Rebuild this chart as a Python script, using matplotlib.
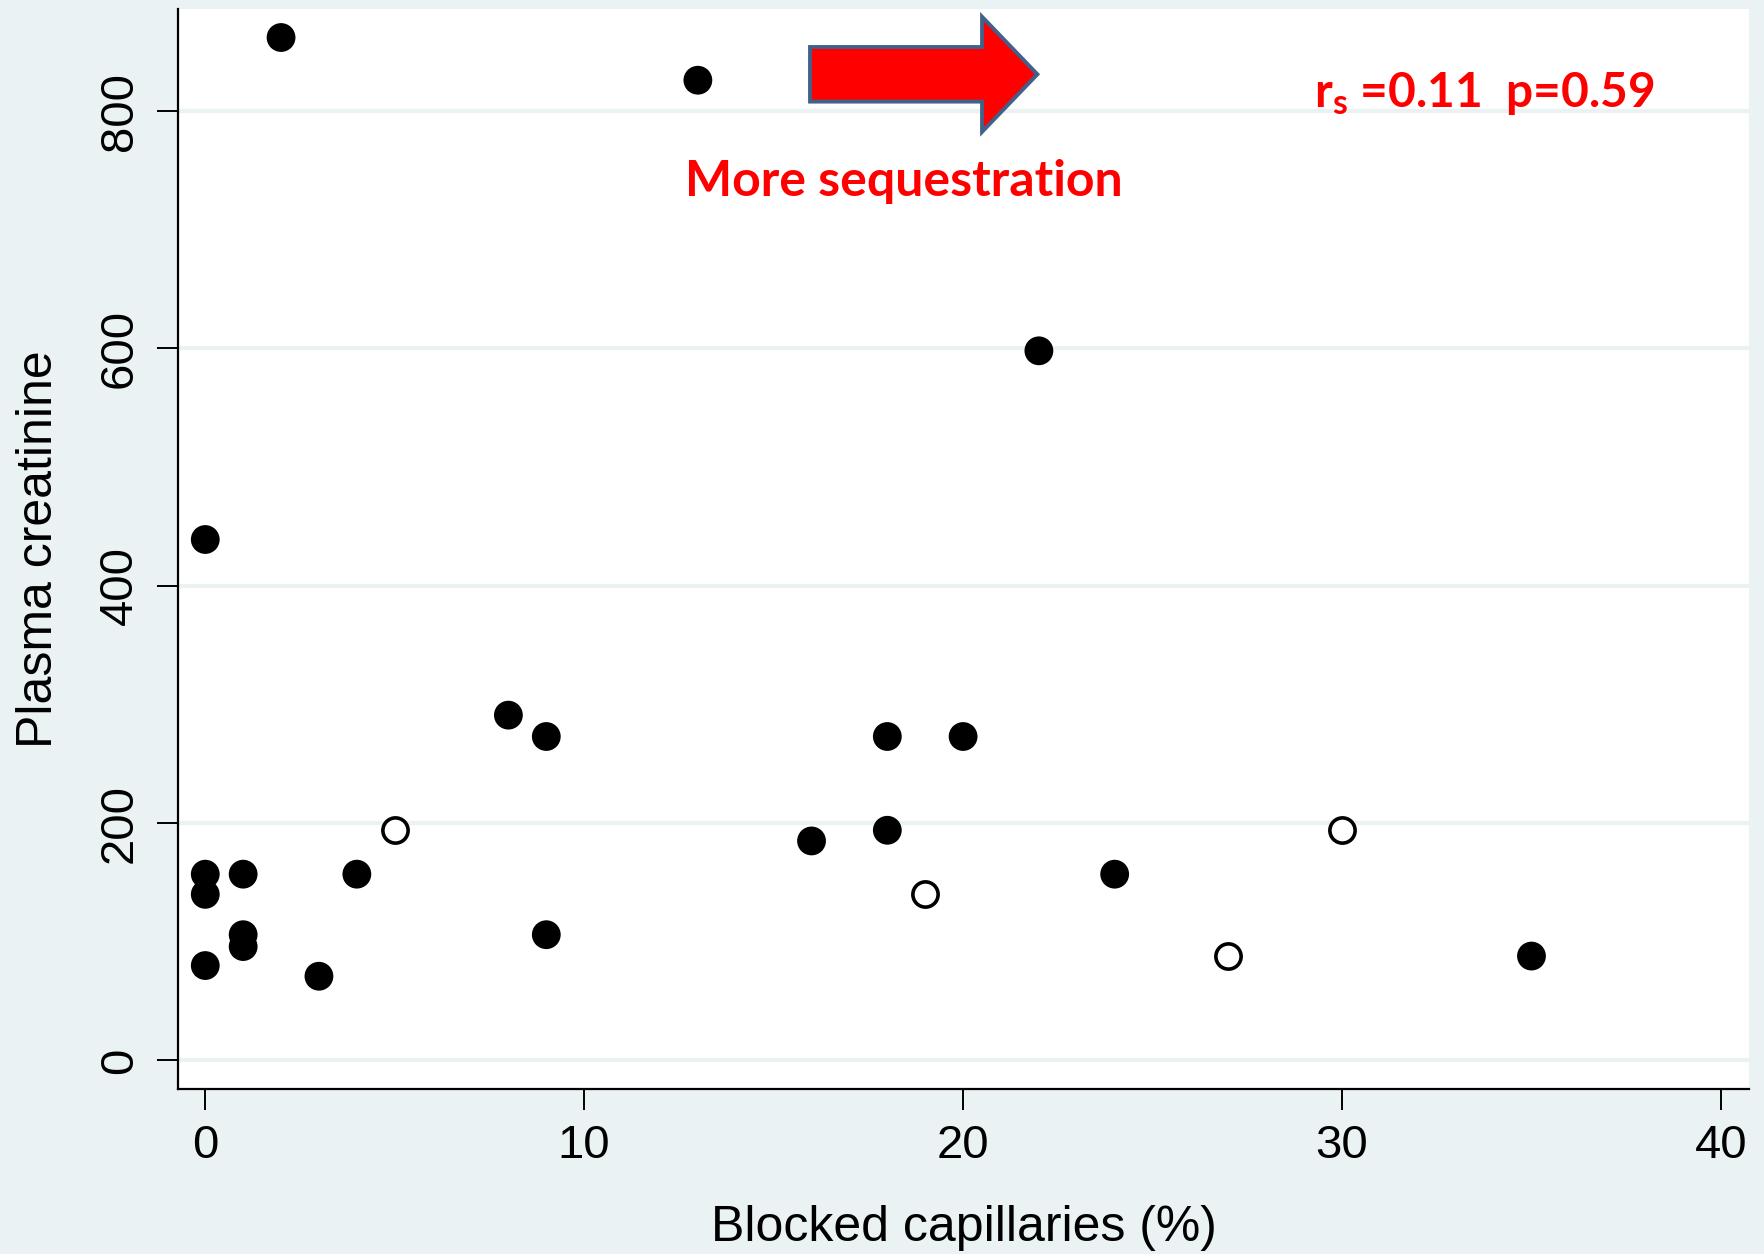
import matplotlib
matplotlib.use("Agg")
import matplotlib.pyplot as plt
from matplotlib.patches import FancyArrow

# Blocked capillaries (%) vs plasma creatinine
filled_x = [2, 13, 22, 0, 8, 9, 18, 20, 16, 18, 24, 35, 0, 0, 0, 1, 1, 1, 3, 4, 9]
filled_y = [862, 826, 598, 439, 291, 273, 273, 273, 185, 194, 157, 88, 157, 140, 80, 157, 106, 96, 71, 157, 106]
open_x = [5, 19, 27, 30]
open_y = [194, 140, 88, 194]

x_ticks = [0, 10, 20, 30, 40]
y_ticks = [0, 200, 400, 600, 800]

BG = "#EAF2F3"

fig = plt.figure(figsize=(17.64, 12.54), dpi=100, facecolor=BG)
ax = fig.add_axes([0.1009, 0.1316, 0.8908, 0.8612])
ax.set_facecolor("white")

ax.set_xlim(-0.72, 40.75)
ax.set_ylim(-24, 886)

for y in y_ticks:
    ax.axhline(y, color=BG, lw=3.0, zorder=0)

ax.scatter(filled_x, filled_y, s=430, c="black", edgecolors="none", zorder=3)
ax.scatter(open_x, open_y, s=330, facecolors="white", edgecolors="black",
           linewidths=2.6, zorder=3)

for side in ("top", "right"):
    ax.spines[side].set_visible(False)
for side in ("left", "bottom"):
    ax.spines[side].set_linewidth(1.6)

ax.set_xticks(x_ticks)
ax.set_yticks(y_ticks)
ax.tick_params(axis="both", length=15, width=1.4, direction="out",
               labelsize=34)
ax.tick_params(axis="x", pad=10)
ax.tick_params(axis="y", pad=11)
for lbl in ax.get_yticklabels():
    lbl.set_rotation(90)
    lbl.set_va("center")
for lbl in ax.get_xticklabels() + ax.get_yticklabels():
    lbl.set_family("Liberation Sans")

ax.set_xlabel("Blocked capillaries (%)", family="Liberation Sans",
              fontsize=36, labelpad=27)
ax.set_ylabel("Plasma creatinine", family="Liberation Sans",
              fontsize=36, labelpad=26)

# Direction arrow and annotations
arrow = FancyArrow(15.96, 831, 6.0, 0, width=46, head_width=97,
                   head_length=1.46, length_includes_head=True,
                   facecolor="#FF0000", edgecolor="#41618A", linewidth=2.8,
                   zorder=4)
ax.add_patch(arrow)

ax.text(18.43, 741, "More sequestration", color="#FF0000", family="Lato",
        fontweight="bold", fontsize=36, ha="center", va="center", zorder=5)

ax.text(33.77, 815, r"r$_\mathregular{s}$ =0.11  p=0.59", color="#FF0000",
        family="Lato", fontweight="bold", fontsize=34.5, ha="center",
        va="center", zorder=5)

fig.savefig("out.png", dpi=100, facecolor=BG)
